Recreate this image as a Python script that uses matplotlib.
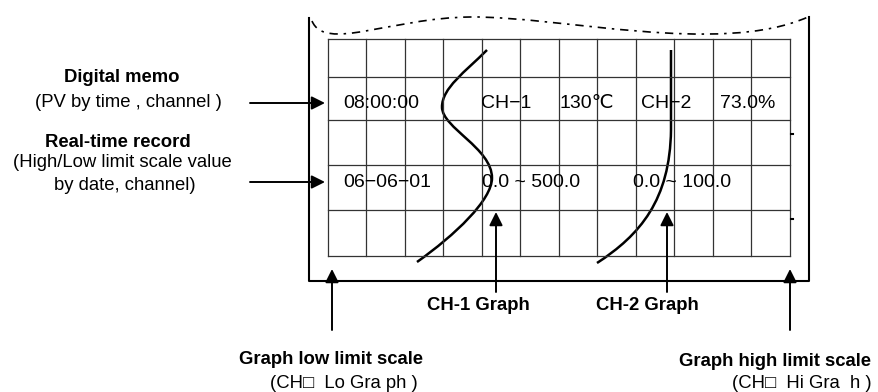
import matplotlib.pyplot as plt
from matplotlib.path import Path
from matplotlib.patches import PathPatch

plt.rcParams['font.family'] = ['Liberation Sans', 'DejaVu Sans']

# grid of the recorder chart paper (pixel coordinates)
grid_cols = [328 + 38.5 * i for i in range(13)]
grid_rows = [39, 77, 120, 165, 210, 256]

# printed text on the chart paper: (x, y, text)
memo_texts = [(343, 103, '08:00:00'), (481, 103, 'CH−1'), (560, 103, '130℃'),
              (641, 103, 'CH−2'), (720, 103, '73.0%')]
record_texts = [(343, 182, '06−06−01'), (482, 182, '0.0 ~ 500.0'), (633, 182, '0.0 ~ 100.0')]

# trend curves as bezier control points
ch1_curve = [(487, 50), (465, 72), (442, 88), (442, 107),
             (442, 128), (492, 148), (492, 178),
             (492, 200), (455, 235), (417, 262)]
ch2_curve = [(671, 50), (671, 130), (670, 200), (640, 235), (597, 263)]
wave_top = [(312, 21), (325, 52), (390, 18), (470, 17),
            (560, 16), (720, 56), (808, 17)]

# callouts
left_notes = [(122, 77, 'Digital memo', 'bold'),
              (128, 102, '(PV by time , channel )', 'normal'),
              (118, 142, 'Real-time record', 'bold'),
              (122, 162, '(High/Low limit scale value', 'normal'),
              (125, 185, 'by date, channel)', 'normal')]
left_arrows = [(250, 325, 103), (250, 325, 182)]
up_arrows = [(496, 292, 212), (667, 292, 212), (332, 330, 269), (790, 330, 269)]
bottom_notes = [(478, 305, 'CH-1 Graph', 'bold'),
                (647, 305, 'CH-2 Graph', 'bold'),
                (331, 359, 'Graph low limit scale', 'bold'),
                (344, 383, '(CH□  Lo Gra ph )', 'normal'),
                (775, 361, 'Graph high limit scale', 'bold'),
                (802, 384, '(CH□  Hi Gra  h )', 'normal')]

fig = plt.figure(figsize=(8.79, 3.92), dpi=100)
ax = fig.add_axes([0, 0, 1, 1])
ax.set_xlim(0, 879)
ax.set_ylim(392, 0)
ax.axis('off')

# grid
for x in grid_cols:
    ax.plot([x, x], [grid_rows[0], grid_rows[-1]], color='#333333', lw=0.9)
for y in grid_rows:
    ax.plot([grid_cols[0], grid_cols[-1]], [y, y], color='#333333', lw=0.9)

# paper frame
ax.plot([309, 309, 809, 809], [18, 281, 281, 17], color='black', lw=1.5)
ax.plot([791, 793], [134, 134], color='black', lw=1.5)
ax.plot([791, 793], [219, 219], color='black', lw=1.5)
wave = Path(wave_top, [Path.MOVETO] + [Path.CURVE4] * 6)
ax.add_patch(PathPatch(wave, fill=False, lw=1.2, ls=(0, (5, 3.5, 1.5, 3.5)), color='black'))

# trend curves
p1 = Path(ch1_curve, [Path.MOVETO] + [Path.CURVE4] * 9)
ax.add_patch(PathPatch(p1, fill=False, lw=1.8, color='black'))
p2 = Path(ch2_curve, [Path.MOVETO, Path.LINETO] + [Path.CURVE4] * 3)
ax.add_patch(PathPatch(p2, fill=False, lw=1.8, color='black'))

for x, y, s in memo_texts + record_texts:
    ax.text(x, y, s, fontsize=14, ha='left', va='center')

for x, y, s, w in left_notes + bottom_notes:
    ax.text(x, y, s, fontsize=13.3, fontweight=w, ha='center', va='center')

arrow = dict(arrowstyle='-|>', color='black', lw=1.4, mutation_scale=20,
             shrinkA=0, shrinkB=0)
for x0, x1, y in left_arrows:
    ax.annotate('', xy=(x1, y), xytext=(x0, y), arrowprops=arrow)
for x, y0, y1 in up_arrows:
    ax.annotate('', xy=(x, y1), xytext=(x, y0), arrowprops=arrow)

fig.savefig('out.png', dpi=100)
